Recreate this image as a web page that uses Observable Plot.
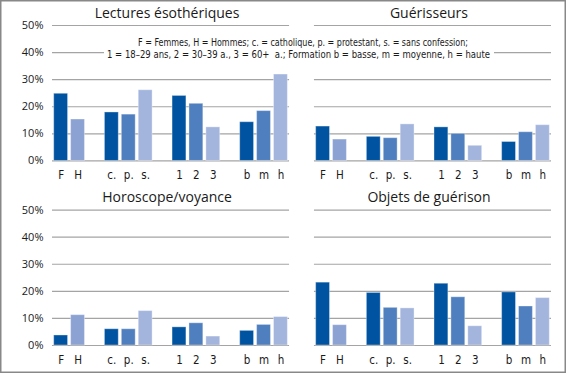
<!DOCTYPE html>
<html><head><meta charset="utf-8">
<script src="https://cdn.jsdelivr.net/npm/d3@7"></script>
<script src="https://cdn.jsdelivr.net/npm/@observablehq/plot@0.6"></script>
<style>body{margin:0;background:#fff}</style>
</head><body><div id="chart"></div>
<script>
const categories = ["F","H","c.","p.","s.","1","2","3","b","m","h"];
const shades = ["dark","lightH","dark","mid","light","dark","mid","light","dark","mid","light"];
const xSlots = ["F","H","_a","c.","p.","s.","_b","1","2","3","_c","b","m","h"];
const panels = ["Lectures ésothériques","Guérisseurs","Horoscope/voyance","Objets de guérison"];
const panelCol = ["left","right","left","right"];
const panelRow = ["top","top","bottom","bottom"];
const lectures    = [24.8,15.3,17.9,17.1,26.1,24.0,21.1,12.4,14.3,18.4,31.9];
const guerisseurs = [12.7,7.9,8.9,8.4,13.5,12.4,10.0,5.6,7.0,10.6,13.2];
const horoscope   = [3.7,11.2,6.0,6.0,12.7,6.7,8.2,3.3,5.4,7.6,10.5];
const objets      = [23.2,7.5,19.4,13.9,13.7,22.8,17.8,7.1,19.6,14.4,17.5];
const yTicks = [0,10,20,30,40,50];
const legendLines = [
  "F = Femmes, H = Hommes; c. = catholique, p. = protestant, s. = sans confession;",
  "1 = 18–29 ans, 2 = 30–39 a., 3 = 60+  a.; Formation b = basse, m = moyenne, h = haute"
];

const values = [lectures, guerisseurs, horoscope, objets];
const rows = [];
panels.forEach((p, i) => values[i].forEach((v, j) => rows.push({
  panel: p, col: panelCol[i], row: panelRow[i], cat: categories[j], shade: shades[j], value: v
})));
const panelData = panels.map((p, i) => ({panel: p, col: panelCol[i], row: panelRow[i]}));
const labelData = panelData.flatMap(p => categories.map(c => ({...p, cat: c})));

const chart = Plot.plot({
  width: 566, height: 373,
  marginLeft: 52, marginRight: 15, marginTop: 25, marginBottom: 28,
  style: {fontFamily: "'Open Sans', sans-serif", fontSize: "11px", color: "#1a1a1a", background: "white"},
  fx: {domain: ["left","right"], paddingInner: 0.095, paddingOuter: 0, round: false, axis: null},
  fy: {domain: ["top","bottom"], paddingInner: 0.266, paddingOuter: 0, round: false, axis: null},
  x: {domain: xSlots, paddingInner: 0.18, paddingOuter: 0.1, round: false, axis: null},
  y: {domain: [0, 50], ticks: yTicks, tickFormat: d => d + "%", tickSize: 0, tickPadding: 9, label: null},
  color: {domain: ["dark","mid","lightH","light"], range: ["#0053a0","#4f7fbf","#8ba2d3","#a3b5dd"]},
  marks: [
    Plot.ruleY(yTicks, {stroke: "#a4a4a4", strokeWidth: 1.2}),
    Plot.barY(rows, {fx: "col", fy: "row", x: "cat", y: "value", fill: "shade", stroke: "white", strokeOpacity: 0.35}),
    Plot.text(labelData, {fx: "col", fy: "row", x: "cat", text: "cat", frameAnchor: "bottom", lineAnchor: "bottom",
      dy: 18, fontFamily: "'Liberation Sans Narrow', 'DejaVu Sans Condensed', sans-serif", fontSize: 11.5, fill: "#1a1a1a"}),
    Plot.text(panelData, {fx: "col", fy: "row", text: "panel", frameAnchor: "top", lineAnchor: "bottom",
      dy: -8, dx: -4, fontSize: 14, fill: "#1a1a1a"})
  ]
});
document.getElementById("chart").appendChild(chart);

const svg = d3.select(chart.tagName.toLowerCase() === "svg" ? chart : chart.querySelector("svg"));
const lg = svg.append("g");
lg.append("rect").attr("x", 104).attr("y", 36).attr("width", 390).attr("height", 25).attr("fill", "white");
const lens = [330, 383];
const ys = [46, 58];
const xs = [303, 298.5];
legendLines.forEach((t, i) => {
  lg.append("text").attr("x", xs[i]).attr("y", ys[i]).attr("text-anchor", "middle")
    .attr("font-family", "'Liberation Sans Narrow', 'DejaVu Sans Condensed', sans-serif")
    .attr("font-size", 11).attr("fill", "#1a1a1a")
    .attr("textLength", lens[i]).attr("lengthAdjust", "spacingAndGlyphs")
    .text(t);
});
svg.append("rect").attr("x", 0.75).attr("y", 0.75).attr("width", 564.5).attr("height", 371.5)
  .attr("fill", "none").attr("stroke", "#888").attr("stroke-width", 1.5);
</script>
</body></html>
